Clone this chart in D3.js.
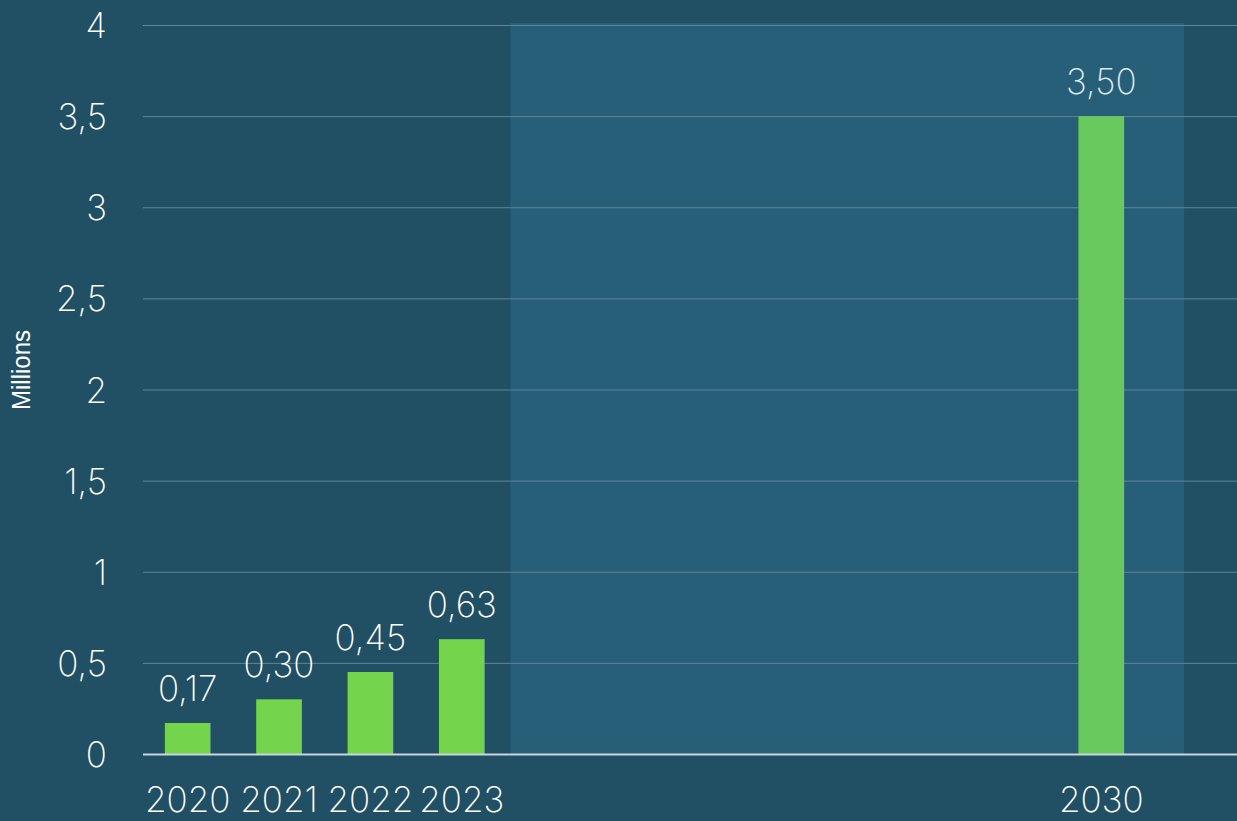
<!DOCTYPE html>
<html><head><meta charset="utf-8">
<script src="https://cdn.jsdelivr.net/npm/d3@7"></script>
<style>
html,body{margin:0;padding:0;background:#214f63;}
svg{display:block;}
</style></head>
<body>
<script>
const categories = ["2020","2021","2022","2023","2024","2025","2026","2027","2028","2029","2030"];
const shownCategories = ["2020","2021","2022","2023","2030"];
const values = [0.17, 0.30, 0.45, 0.63, null, null, null, null, null, null, 3.50];
const valueLabels = ["0,17","0,30","0,45","0,63","","","","","","","3,50"];
const yTicks = [0,0.5,1,1.5,2,2.5,3,3.5,4];
const yTickLabels = ["0","0,5","1","1,5","2","2,5","3","3,5","4"];
const highlightRange = ["2024","2030"];

const W = 1237, H = 821;
const svg = d3.select("body").append("svg").attr("width", W).attr("height", H);
svg.append("rect").attr("width", W).attr("height", H).attr("fill", "#214f63");

const x = d3.scaleBand().domain(categories).range([142, 1147]).paddingInner(0.5).paddingOuter(0.25);
const y = d3.scaleLinear().domain([0,4]).range([754, 25]);
const font = "Inter, 'Noto Sans', sans-serif";
const fw = 200;

// highlight region
const hx0 = x(highlightRange[0]) - (x.step()-x.bandwidth())/2 + 3;
const hx1 = x(highlightRange[1]) + x.bandwidth() + 60;
svg.append("rect").attr("x", hx0).attr("y", y(4)-2).attr("width", hx1-hx0).attr("height", y(0)-y(4)+2)
  .attr("fill", "#275f78");

// gridlines
svg.append("g").selectAll("line").data(yTicks.filter(d=>d>0)).join("line")
  .attr("x1", 143).attr("x2", W).attr("y1", d=>y(d)+0.5).attr("y2", d=>y(d)+0.5)
  .attr("stroke", "#5d8798").attr("stroke-width", 1);

// bars
const data = categories.map((c,i)=>({c, v: values[i], l: valueLabels[i]})).filter(d=>d.v!=null);
svg.append("g").selectAll("rect").data(data).join("rect")
  .attr("x", d=>x(d.c)).attr("width", x.bandwidth())
  .attr("y", d=>y(d.v)).attr("height", d=>y(0)-y(d.v))
  .attr("fill", d=>d.c==="2030" ? "#69c95f" : "#74d44b");

// zero line
svg.append("line").attr("x1", 143).attr("x2", W).attr("y1", y(0)+0.5).attr("y2", y(0)+0.5)
  .attr("stroke", "#c9d6db").attr("stroke-width", 2);

// value labels
svg.append("g").selectAll("text").data(data).join("text")
  .attr("x", d=>x(d.c)+x.bandwidth()/2).attr("y", d=>y(d.v)-22)
  .attr("text-anchor","middle").attr("font-family", font).attr("font-weight", fw)
  .attr("font-size", 35).attr("fill", d=>d.c==="2030" ? "#dce8ee" : "#ffffff")
  .text(d=>d.l);

// y axis labels
svg.append("g").selectAll("text").data(yTicks).join("text")
  .attr("x", 107).attr("y", d=>y(d)+13)
  .attr("text-anchor","end").attr("font-family", font).attr("font-weight", fw)
  .attr("font-size", 35).attr("fill", "#ffffff")
  .text((d,i)=>yTickLabels[i]);

// x axis labels
svg.append("g").selectAll("text").data(shownCategories).join("text")
  .attr("x", d=>x(d)+x.bandwidth()/2).attr("y", 812)
  .attr("text-anchor","middle").attr("font-family", font).attr("font-weight", fw)
  .attr("font-size", 35).attr("fill", "#ffffff")
  .text(d=>d);

// y title
svg.append("text").attr("transform", "translate(30,370) rotate(-90)")
  .attr("text-anchor","middle").attr("font-family", "'Liberation Sans', Arial, sans-serif")
  .attr("font-size", 26).attr("textLength", 80).attr("lengthAdjust", "spacingAndGlyphs")
  .attr("fill", "#ffffff").text("Millions");
</script>
</body></html>
